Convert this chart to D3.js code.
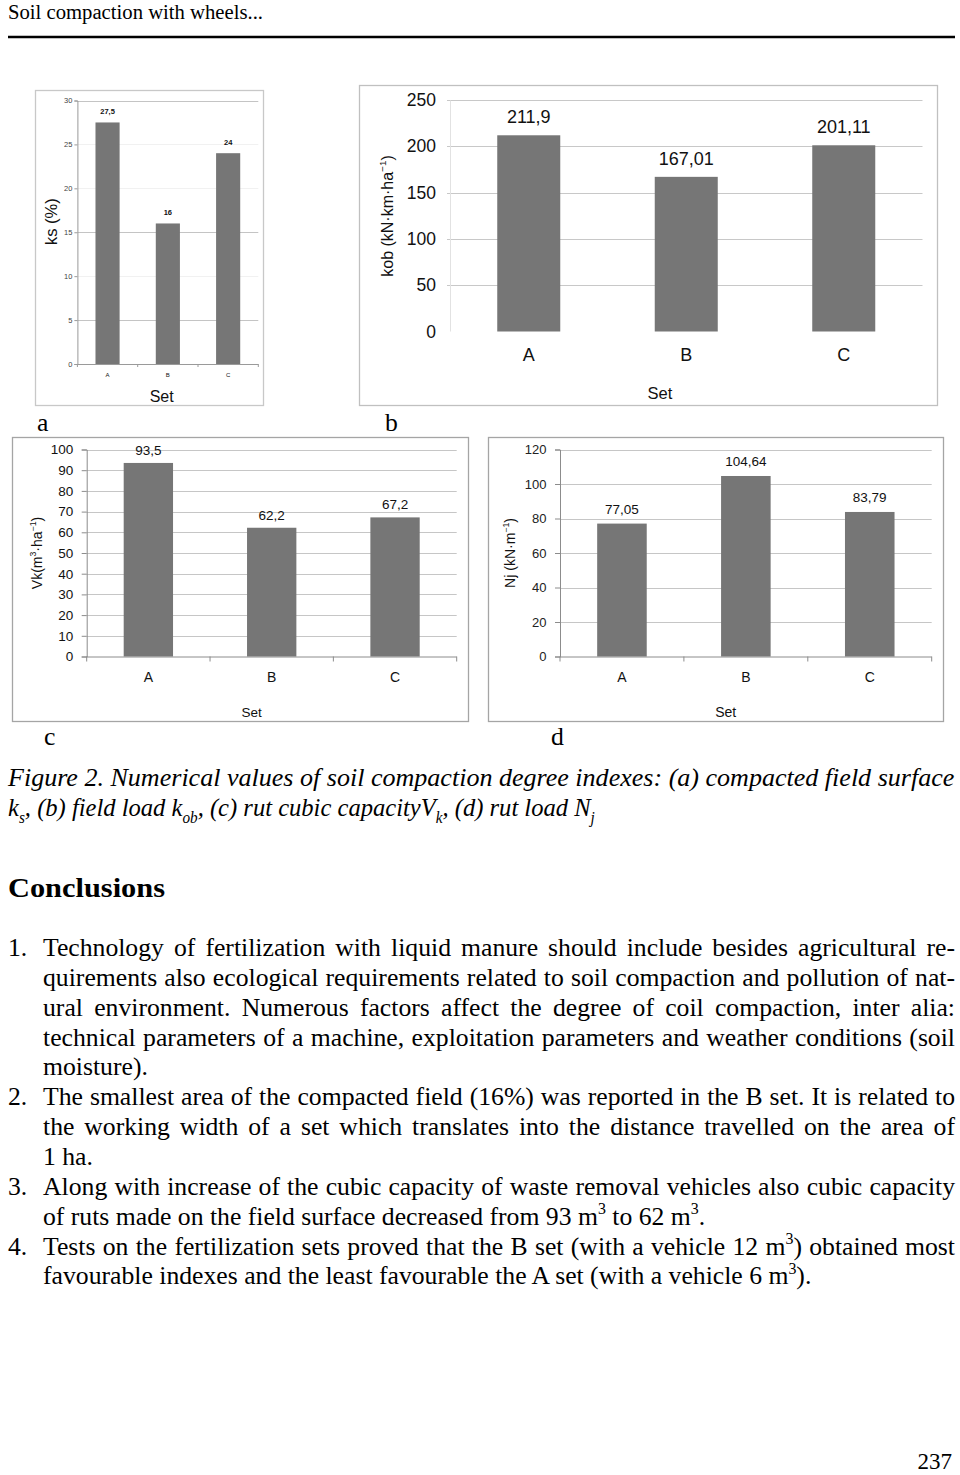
<!DOCTYPE html>
<html>
<head>
<meta charset="utf-8">
<script src="https://cdn.jsdelivr.net/npm/d3@7"></script>
<style>
  body { margin: 0; background: #fff; }
  svg { display: block; }
</style>
</head>
<body>
<svg id="page" width="960" height="1475"></svg>
<script>
// ---- chart data ----
const categories = ["A", "B", "C"];
const ksValues = [27.5, 16, 24];            // (a) ks (%)
const kobValues = [211.9, 167.01, 201.11];  // (b) kob
const vkValues = [93.5, 62.2, 67.2];        // (c) Vk
const njValues = [77.05, 104.64, 83.79];    // (d) Nj
const ksTicks = [0, 5, 10, 15, 20, 25, 30];
const kobTicks = [0, 50, 100, 150, 200, 250];
const vkTicks = [0, 10, 20, 30, 40, 50, 60, 70, 80, 90, 100];
const njTicks = [0, 20, 40, 60, 80, 100, 120];

// ---- page text ----
const headerText = "Soil compaction with wheels...";
const captionLines = [
  ["Figure 2. Numerical values of soil compaction degree indexes: (a) compacted field surface"],
  ["k", {sub: "s"}, ", (b) field load k", {sub: "ob"}, ", (c) rut cubic capacityV", {sub: "k"}, ", (d) rut load N", {sub: "j"}]
];
const conclusions = [
  {n: "1.", lines: [
    ["Technology of fertilization with liquid manure should include besides agricultural re-"],
    ["quirements also ecological requirements related to soil compaction and pollution of nat-"],
    ["ural environment. Numerous factors affect the degree of coil compaction, inter alia:"],
    ["technical parameters of a machine, exploitation parameters and weather conditions (soil"],
    ["moisture)."]]},
  {n: "2.", lines: [
    ["The smallest area of the compacted field (16%) was reported in the B set. It is related to"],
    ["the working width of a set which translates into the distance travelled on the area of"],
    ["1 ha."]]},
  {n: "3.", lines: [
    ["Along with increase of the cubic capacity of waste removal vehicles also cubic capacity"],
    ["of ruts made on the field surface decreased from 93 m", {sup: "3"}, " to 62 m", {sup: "3"}, "."]]},
  {n: "4.", lines: [
    ["Tests on the fertilization sets proved that the B set (with a vehicle 12 m", {sup: "3"}, ") obtained most"],
    ["favourable indexes and the least favourable the A set (with a vehicle 6 m", {sup: "3"}, ")."]]}
];

const SANS = "'Liberation Sans', Arial, sans-serif";
const SERIF = "'Liberation Serif', 'Times New Roman', serif";
const svg = d3.select("#page");

// writes plain / sub / sup pieces as tspans
function rich(text, segs, size) {
  let shift = 0;
  segs.forEach(s => {
    let str = s, want = 0, small = false;
    if (typeof s !== "string") {
      if (s.sub) { str = s.sub; want = size * 0.28; }
      else { str = s.sup; want = -size * 0.42; }
      small = true;
    }
    const t = text.append("tspan").text(str);
    if (want - shift !== 0) t.attr("dy", want - shift);
    if (small) t.attr("font-size", size * 0.62);
    shift = want;
  });
}

function barChart(values, o) {
  const g = svg.append("g");

  g.append("rect")
    .attr("x", o.frame[0] + 0.5).attr("y", o.frame[1] + 0.5)
    .attr("width", o.frame[2] - o.frame[0]).attr("height", o.frame[3] - o.frame[1])
    .attr("fill", "none").attr("stroke", o.frameColor).attr("stroke-width", 1.3);

  const x = d3.scaleBand().domain(categories)
    .range([o.left, o.right]).paddingInner(0.6).paddingOuter(0.3);
  const y = d3.scaleLinear().domain([0, o.ticks[o.ticks.length - 1]])
    .range([o.bottom, o.top]);

  // gridlines
  g.selectAll(".grid").data(o.ticks.filter(t => t > 0)).enter().append("line")
    .attr("x1", o.left - o.gridExt).attr("x2", o.right)
    .attr("y1", d => Math.round(y(d)) + 0.5).attr("y2", d => Math.round(y(d)) + 0.5)
    .attr("stroke", d => (o.faintGrid && o.faintGrid.includes(d)) ? "#f1f1f1" : o.gridColor)
    .attr("stroke-width", 1);

  // y axis
  const ya = g.append("g")
    .attr("transform", "translate(" + o.left + ",0)")
    .call(d3.axisLeft(y).tickValues(o.ticks).tickSize(o.tickSize).tickPadding(o.tickPad));
  ya.select(".domain").attr("stroke", o.axisColor);
  ya.selectAll(".tick line").attr("stroke", o.axisColor);
  ya.selectAll(".tick text")
    .attr("font-family", SANS).attr("font-size", o.tickFont).attr("fill", o.tickFill);

  // x axis line with ticks on the category boundaries
  g.append("line")
    .attr("x1", o.left).attr("x2", o.right)
    .attr("y1", y(0) + 0.5).attr("y2", y(0) + 0.5)
    .attr("stroke", o.xAxisColor);
  g.selectAll(".bt").data(d3.range(categories.length + 1)).enter().append("line")
    .attr("x1", i => o.left + i * x.step()).attr("x2", i => o.left + i * x.step())
    .attr("y1", y(0)).attr("y2", y(0) + o.tickSize)
    .attr("stroke", o.xAxisColor);

  // bars
  g.selectAll(".bar").data(values).enter().append("rect")
    .attr("x", (d, i) => x(categories[i]))
    .attr("y", d => y(d))
    .attr("width", x.bandwidth())
    .attr("height", d => y(0) - y(d))
    .attr("fill", "#767676");

  // value labels
  g.selectAll(".val").data(values).enter().append("text")
    .attr("x", (d, i) => x(categories[i]) + x.bandwidth() / 2)
    .attr("y", d => y(d) - o.valGap)
    .attr("text-anchor", "middle")
    .attr("font-family", SANS).attr("font-size", o.valFont)
    .attr("font-weight", o.valWeight || "normal").attr("fill", "#111")
    .text(d => String(d).replace(".", ","));

  // category labels
  g.selectAll(".cat").data(categories).enter().append("text")
    .attr("x", d => x(d) + x.bandwidth() / 2)
    .attr("y", o.catY)
    .attr("text-anchor", "middle")
    .attr("font-family", SANS).attr("font-size", o.catFont).attr("fill", "#111")
    .text(d => d);

  // axis titles
  g.append("text")
    .attr("x", o.setPos[0]).attr("y", o.setPos[1])
    .attr("text-anchor", "middle")
    .attr("font-family", SANS).attr("font-size", o.setFont).attr("fill", "#111")
    .text("Set");

  const yl = g.append("text")
    .attr("transform", "translate(" + o.yLabelPos[0] + "," + o.yLabelPos[1] + ") rotate(-90)")
    .attr("text-anchor", "middle").attr("dy", "0.35em")
    .attr("font-family", SANS).attr("font-size", o.yLabelFont).attr("fill", "#111");
  rich(yl, o.yLabel, o.yLabelFont);
}

// (a) compacted field surface
barChart(ksValues, {
  frame: [35, 90, 263, 405], left: 77.4, right: 258.3, bottom: 364, top: 100.5,
  ticks: ksTicks, faintGrid: [10, 20, 25], gridExt: 0, gridColor: "#c4c4c4",
  tickSize: 3, tickPad: 2, tickFont: 7.5, tickFill: "#444",
  axisColor: "#9a9a9a", xAxisColor: "#9a9a9a", frameColor: "#c8c8c8",
  valFont: 7.5, valWeight: "bold", valGap: 8.5, catFont: 6, catY: 376.5,
  setPos: [161.7, 402], setFont: 16,
  yLabel: ["ks (%)"], yLabelPos: [51.7, 221.7], yLabelFont: 16.5
});

// (b) field load
barChart(kobValues, {
  frame: [359, 85, 937, 405], left: 450, right: 922.5, bottom: 331.5, top: 100,
  ticks: kobTicks, gridExt: 3, gridColor: "#c8c8c8",
  tickSize: 0, tickPad: 14, tickFont: 17.5, tickFill: "#111",
  axisColor: "#e2e2e2", xAxisColor: "#ffffff", frameColor: "#c0c0c0",
  valFont: 18, valGap: 12, catFont: 18, catY: 361,
  setPos: [660, 399], setFont: 16.5,
  yLabel: ["kob (kN\u00b7km\u00b7ha", {sup: "\u22121"}, ")"], yLabelPos: [387, 216], yLabelFont: 16
});

// (c) rut cubic capacity
barChart(vkValues, {
  frame: [12, 437, 468, 721], left: 86.7, right: 456.7, bottom: 656.5, top: 449.5,
  ticks: vkTicks, gridExt: 0, gridColor: "#c6c6c6",
  tickSize: 5, tickPad: 8.5, tickFont: 13.5, tickFill: "#111",
  axisColor: "#8c8c8c", xAxisColor: "#8c8c8c", frameColor: "#a5a5a5",
  valFont: 13.5, valGap: 8, catFont: 14, catY: 682,
  setPos: [251.7, 716.5], setFont: 13.5,
  yLabel: ["Vk(m", {sup: "3"}, "\u00b7ha", {sup: "\u22121"}, ")"], yLabelPos: [36.7, 553], yLabelFont: 14
});

// (d) rut load
barChart(njValues, {
  frame: [488, 437, 943, 721], left: 560, right: 931.7, bottom: 656.5, top: 449.5,
  ticks: njTicks, gridExt: 0, gridColor: "#c6c6c6",
  tickSize: 5, tickPad: 8.5, tickFont: 13, tickFill: "#222",
  axisColor: "#8c8c8c", xAxisColor: "#8c8c8c", frameColor: "#a5a5a5",
  valFont: 13.5, valGap: 10, catFont: 14, catY: 682,
  setPos: [725.7, 716.5], setFont: 14,
  yLabel: ["Nj (kN\u00b7m", {sup: "\u22121"}, ")"], yLabelPos: [510, 553], yLabelFont: 14
});

// ---- page furniture ----
const BODY = 25.7;

function line(segs, x, y, opts) {
  const size = opts.size || BODY;
  const t = svg.append("text")
    .attr("font-family", SERIF).attr("font-size", size)
    .attr("font-style", opts.italic ? "italic" : "normal")
    .attr("font-weight", opts.bold ? "bold" : "normal")
    .attr("fill", "#000");
  rich(t, segs, size);
  if (opts.squeezeTo) {
    // horizontal squeeze so the line ends where it does on the page
    const s = (opts.squeezeTo - x) / t.node().getComputedTextLength();
    t.attr("transform", "translate(" + x + "," + y + ") scale(" + s + ",1)");
  } else {
    t.attr("x", x).attr("y", y);
  }
  if (opts.justifyTo) {
    const w = t.node().getComputedTextLength();
    const gaps = t.text().split(" ").length - 1;
    if (gaps > 0) t.attr("word-spacing", (opts.justifyTo - x - w) / gaps);
  }
  if (opts.fitTo) {
    t.attr("textLength", opts.fitTo - x).attr("lengthAdjust", "spacingAndGlyphs");
  }
  return t;
}

line([headerText], 8, 19, {size: 20.5, fitTo: 263});
svg.append("line").attr("x1", 8).attr("x2", 955).attr("y1", 37).attr("y2", 37)
  .attr("stroke", "#000").attr("stroke-width", 2.5);

// panel letters
[["a", 37, 431], ["b", 385, 431], ["c", 44, 745], ["d", 551, 745]].forEach(p => {
  line([p[0]], p[1], p[2], {});
});

line(captionLines[0], 8, 786, {italic: true, size: 25.5, squeezeTo: 955});
line(captionLines[1], 8, 816, {italic: true, size: 25.5, squeezeTo: 595});

line(["Conclusions"], 8, 897, {size: 27, bold: true, fitTo: 165});

let row = 0;
const firstBase = 956, lineStep = 29.85;
conclusions.forEach(p => {
  line([p.n], 8, firstBase + row * lineStep, {});
  p.lines.forEach((l, i) => {
    const last = i === p.lines.length - 1;
    line(l, 43, firstBase + row * lineStep, last ? {} : {justifyTo: 955});
    row++;
  });
});

svg.append("text").attr("x", 952).attr("y", 1469).attr("text-anchor", "end")
  .attr("font-family", SERIF).attr("font-size", 23).text("237");
</script>
</body>
</html>
